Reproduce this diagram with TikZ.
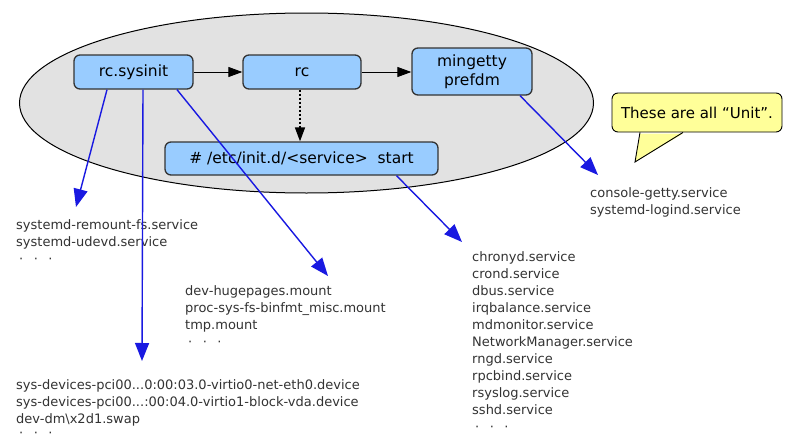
\documentclass[tikz,border=0pt]{standalone}
\usepackage{fontspec}
\setmainfont{DejaVu Sans}
\usetikzlibrary{arrows.meta,shapes.geometric}
\definecolor{boxblue}{HTML}{99CCFF}
\definecolor{boxline}{HTML}{333333}
\definecolor{ellfill}{HTML}{E2E2E2}
\definecolor{notefill}{HTML}{FFFF99}
\definecolor{arrowblue}{RGB}{25,25,225}
\definecolor{listtext}{HTML}{333333}
\newcommand{\mydots}{\hspace{3pt}·\hspace{10.5pt}·\hspace{10.5pt}·}
\begin{document}
\begin{tikzpicture}[x=1pt,y=-1pt,
  unitbox/.style={draw=boxline,line width=1.3pt,fill=boxblue,rounded corners=6pt,
    font=\fontsize{15.5}{19}\selectfont,align=center,inner sep=0pt},
  blackarrow/.style={-{Triangle[length=14pt,width=10pt]},line width=1pt,black},
  bluearrow/.style={-{Triangle[length=18pt,width=14pt]},line width=1.4pt,arrowblue},
  unitlist/.style={anchor=north west,align=left,inner sep=0pt,text=listtext,
    font=\fontsize{13}{17}\selectfont},
  notebox/.style={draw=black,line width=0.9pt,fill=notefill,rounded corners=6pt,
    font=\fontsize{15}{17}\selectfont,inner sep=0pt,minimum width=170pt,minimum height=39pt}
]
\useasboundingbox (0,0) rectangle (793,439);
\fill[white] (0,0) rectangle (793,439);

\node[ellipse,draw=black,line width=1pt,fill=ellfill,minimum width=574pt,minimum height=180pt] (ell) at (306.5,103) {};

\node[unitbox,minimum width=119pt,minimum height=34pt] (sysinit) at (133.5,72) {rc.sysinit};
\node[unitbox,minimum width=118pt,minimum height=34pt] (rc) at (302,72) {rc};
\node[unitbox,minimum width=120pt,minimum height=47pt] (mingetty) at (472,71.5) {mingetty\\prefdm};
\node[unitbox,minimum width=273pt,minimum height=33pt] (service) at (301.5,158.5) {\# /etc/init.d/<service>~~start};

\draw[blackarrow] (sysinit) -- (rc);
\draw[blackarrow] (rc.east) -- (rc.east -| mingetty.west);
\draw[blackarrow,line width=1.6pt,dash pattern=on 2pt off 2pt] ([xshift=-2pt]rc.south) -- ([xshift=-1.5pt]service.north);

% lists
\node[unitlist] (l1) at (16,219) {systemd-remount-fs.service\\systemd-udevd.service\\\mydots};
\node[unitlist] (l2) at (185,285) {dev-hugepages.mount\\proc-sys-fs-binfmt\_misc.mount\\tmp.mount\\\mydots};
\node[unitlist] (l3) at (16,379) {sys-devices-pci00...0:00:03.0-virtio0-net-eth0.device\\sys-devices-pci00...:00:04.0-virtio1-block-vda.device\\dev-dm\textbackslash x2d1.swap\\[-3pt]\mydots};
\node[unitlist] (l4) at (472,251) {chronyd.service\\crond.service\\dbus.service\\irqbalance.service\\mdmonitor.service\\NetworkManager.service\\rngd.service\\rpcbind.service\\rsyslog.service\\sshd.service\\\mydots};
\node[unitlist] (l5) at (590,187) {console-getty.service\\systemd-logind.service};

\coordinate (t1) at (76,207);
\coordinate (t2) at (142,361);
\coordinate (t3) at (328,276);
\coordinate (t4) at (462,242);
\coordinate (t5) at (598,175);

\draw[bluearrow] ([xshift=-26.5pt]sysinit.south) -- (t1);
\draw[bluearrow] ([xshift=9.5pt]sysinit.south) -- (t2);
\draw[bluearrow] ([xshift=43.5pt]sysinit.south) -- (t3);
\draw[bluearrow] ([xshift=95pt]service.south) -- (t4);
\draw[bluearrow] ([xshift=48pt]mingetty.south) -- (t5);

% callout
\node[notebox] (note) at (697,112.5) {These are all “Unit”.};
\fill[notefill] ([xshift=-57pt,yshift=-1.2pt]note.south) -- (635,162) -- ([xshift=-14pt,yshift=-1.2pt]note.south) -- cycle;
\draw[black,line width=0.9pt,line join=miter] ([xshift=-57pt]note.south) -- (635,162) -- ([xshift=-14pt]note.south);
\end{tikzpicture}
\end{document}
